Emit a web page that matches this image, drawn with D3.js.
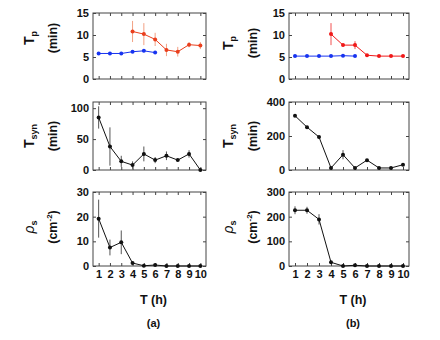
<!DOCTYPE html>
<html lang="en">
<head>
	<meta charset="UTF-8">
	<title>Tp Tsyn rho</title>
	<style>
		body { margin: 0; background: #fff; }
		text { font-family: "Liberation Sans", Arial, sans-serif; font-weight: bold; fill: #111; }
	</style>
</head>
<body>
<svg id="chart" width="440" height="340"></svg>
<script src="https://cdn.jsdelivr.net/npm/d3@7/dist/d3.min.js"></script>
<script>
	// hours on the x axis
	var hours = [1, 2, 3, 4, 5, 6, 7, 8, 9, 10];
	var hoursEarly = [1, 2, 3, 4, 5, 6];
	var hoursLate = [4, 5, 6, 7, 8, 9, 10];

	// panel (a)
	var tpBlueA = [5.8, 5.8, 5.8, 6.2, 6.4, 6.0];
	var tpBlueErrA = [0.2, 0.2, 0.2, 0.3, 0.3, 0.3];
	var tpRedA = [10.8, 10.2, 9.0, 6.6, 6.2, 7.8, 7.6];
	var tpRedErrA = [2.4, 2.5, 1.5, 1.4, 1.1, 0.6, 0.8];
	var tsynA = [85, 38, 14, 8, 26, 16, 23, 16, 26, 0];
	var tsynErrA = [18, 31, 9, 6, 12, 5, 7, 2, 6, 0];
	var rhoA = [19.2, 7.5, 9.6, 1.2, 0.1, 0.4, 0, 0, 0, 0];
	var rhoErrA = [7.7, 3.2, 4.8, 0.5, 0.1, 0.3, 0, 0, 0, 0];

	// panel (b)
	var tpBlueB = [5.2, 5.2, 5.2, 5.2, 5.3, 5.2];
	var tpBlueErrB = [0.1, 0.1, 0.1, 0.1, 0.1, 0.1];
	var tpRedB = [10.2, 7.7, 7.7, 5.4, 5.2, 5.2, 5.2];
	var tpRedErrB = [2.5, 0.3, 0.9, 0.2, 0.1, 0.1, 0.1];
	var tsynB = [319, 252, 194, 12, 90, 12, 58, 12, 12, 31];
	var tsynErrB = [5, 5, 5, 3, 27, 3, 4, 3, 3, 4];
	var rhoB = [226, 226, 189, 15, 0, 3, 0, 0, 0, 0];
	var rhoErrB = [16, 14, 21, 3, 0, 1, 0, 0, 0, 0];

	// y ticks
	var tpTicks = [0, 5, 10, 15];
	var tsynTicksA = [0, 50, 100];
	var tsynTicksB = [0, 200, 400];
	var rhoTicksA = [0, 10, 20, 30];
	var rhoTicksB = [0, 100, 200, 300];

	var svg = d3.select("#chart");

	var cols = [
		{x0: 93, x1: 206, name: "(a)", labX: [34, 53]},
		{x0: 289, x1: 409, name: "(b)", labX: [233, 253]}
	];
	var rows = [
		{y0: 13, y1: 79},
		{y0: 102, y1: 170},
		{y0: 192, y1: 266}
	];

	var pair = (xs, ys, es) => xs.map((x, i) => ({x: x, y: ys[i], e: es[i]}));

	var panels = [
		{col: 0, row: 0, domain: [0, 15], ticks: tpTicks, label: "tp", shift: -8, series: [
			{pts: pair(hoursEarly, tpBlueA, tpBlueErrA), color: "#1733f0", err: "#6f80f5"},
			{pts: pair(hoursLate, tpRedA, tpRedErrA), color: "#ea3f1d", err: "#f2a184"}]},
		{col: 0, row: 1, domain: [0, 110], ticks: tsynTicksA, label: "tsyn", shift: 0, series: [
			{pts: pair(hours, tsynA, tsynErrA), color: "#111", err: "#555"}]},
		{col: 0, row: 2, domain: [0, 30], ticks: rhoTicksA, label: "rho", shift: -2, xlab: true, series: [
			{pts: pair(hours, rhoA, rhoErrA), color: "#111", err: "#555"}]},
		{col: 1, row: 0, domain: [0, 15], ticks: tpTicks, label: "tp", shift: -3, series: [
			{pts: pair(hoursEarly, tpBlueB, tpBlueErrB), color: "#1733f0", err: "#6f80f5"},
			{pts: pair(hoursLate, tpRedB, tpRedErrB), color: "#f01818", err: "#f25050"}]},
		{col: 1, row: 1, domain: [0, 400], ticks: tsynTicksB, label: "tsyn", shift: 0, series: [
			{pts: pair(hours, tsynB, tsynErrB), color: "#111", err: "#555"}]},
		{col: 1, row: 2, domain: [0, 300], ticks: rhoTicksB, label: "rho", shift: -2, xlab: true, series: [
			{pts: pair(hours, rhoB, rhoErrB), color: "#111", err: "#555"}]}
	];

	panels.forEach(function(p) {
		var c = cols[p.col], r = rows[p.row];
		var x = d3.scaleLinear().domain([0.5, 10.5]).range([c.x0, c.x1]);
		var y = d3.scaleLinear().domain(p.domain).range([r.y1, r.y0]);
		var g = svg.append("g");

		// axes, ticks pointing inward on all sides
		var ax = [
			[d3.axisLeft(y).tickValues(p.ticks), c.x0, 0],
			[d3.axisRight(y).tickValues(p.ticks).tickFormat(""), c.x1, 0],
			[d3.axisTop(x).tickValues(hours).tickFormat(""), 0, r.y0],
			[d3.axisBottom(x).tickValues(hours).tickFormat(p.xlab ? d3.format("d") : ""), 0, r.y1]
		];
		ax.forEach(function(a) {
			var sel = g.append("g").attr("transform", "translate(" + a[1] + "," + a[2] + ")")
				.call(a[0].tickSize(-3).tickPadding(4));
			sel.select(".domain").remove();
			sel.selectAll(".tick line").attr("stroke", "#444");
			sel.selectAll("text").attr("font-size", 11).attr("fill", "#111")
				.attr("font-family", "Liberation Sans, Arial, sans-serif")
				.attr("font-weight", "bold");
		});

		g.append("rect")
			.attr("x", c.x0).attr("y", r.y0)
			.attr("width", c.x1 - c.x0).attr("height", r.y1 - r.y0)
			.attr("fill", "none").attr("stroke", "#444").attr("stroke-width", 1);

		var line = d3.line().x(d => x(d.x)).y(d => y(d.y));
		p.series.forEach(function(s) {
			g.selectAll(null).data(s.pts.filter(d => d.e > 0)).join("line")
				.attr("x1", d => x(d.x)).attr("x2", d => x(d.x))
				.attr("y1", d => y(d.y - d.e)).attr("y2", d => y(d.y + d.e))
				.attr("stroke", s.err).attr("stroke-width", 1);
			g.append("path").datum(s.pts).attr("d", line)
				.attr("fill", "none").attr("stroke", s.color).attr("stroke-width", 1);
			g.selectAll(null).data(s.pts).join("circle")
				.attr("cx", d => x(d.x)).attr("cy", d => y(d.y)).attr("r", 2)
				.attr("fill", s.color);
		});

		// y label (two lines, rotated)
		var cy = (r.y0 + r.y1) / 2 + p.shift;
		var t1 = svg.append("text").attr("transform", "translate(" + c.labX[0] + "," + cy + ") rotate(-90)")
			.attr("text-anchor", "middle").attr("font-size", 14);
		var t2 = svg.append("text").attr("transform", "translate(" + (c.labX[1] + 4) + "," + cy + ") rotate(-90)")
			.attr("text-anchor", "middle").attr("font-size", 12.5);
		if (p.label == "tp") {
			t1.append("tspan").text("T");
			t1.append("tspan").attr("font-size", 9).attr("dy", 3).text("p");
			t2.text("(min)");
		} else if (p.label == "tsyn") {
			t1.append("tspan").text("T");
			t1.append("tspan").attr("font-size", 9).attr("dy", 3).text("syn");
			t2.text("(min)");
		} else {
			t1.append("tspan").attr("font-style", "italic").attr("font-weight", "normal").text("ρ");
			t1.append("tspan").attr("font-size", 9).attr("dy", 3).text("s");
			t2.append("tspan").text("(cm");
			t2.append("tspan").attr("font-size", 8).attr("dy", -5).text("-2");
			t2.append("tspan").attr("dy", 5).text(")");
		}

		if (p.xlab) {
			svg.append("text").attr("x", (c.x0 + c.x1) / 2 + 4).attr("y", 304)
				.attr("text-anchor", "middle").attr("font-size", 12.5).text("T (h)");
			svg.append("text").attr("x", (c.x0 + c.x1) / 2 + 4).attr("y", 327)
				.attr("text-anchor", "middle").attr("font-size", 11).text(c.name);
		}
	});
</script>
</body>
</html>
